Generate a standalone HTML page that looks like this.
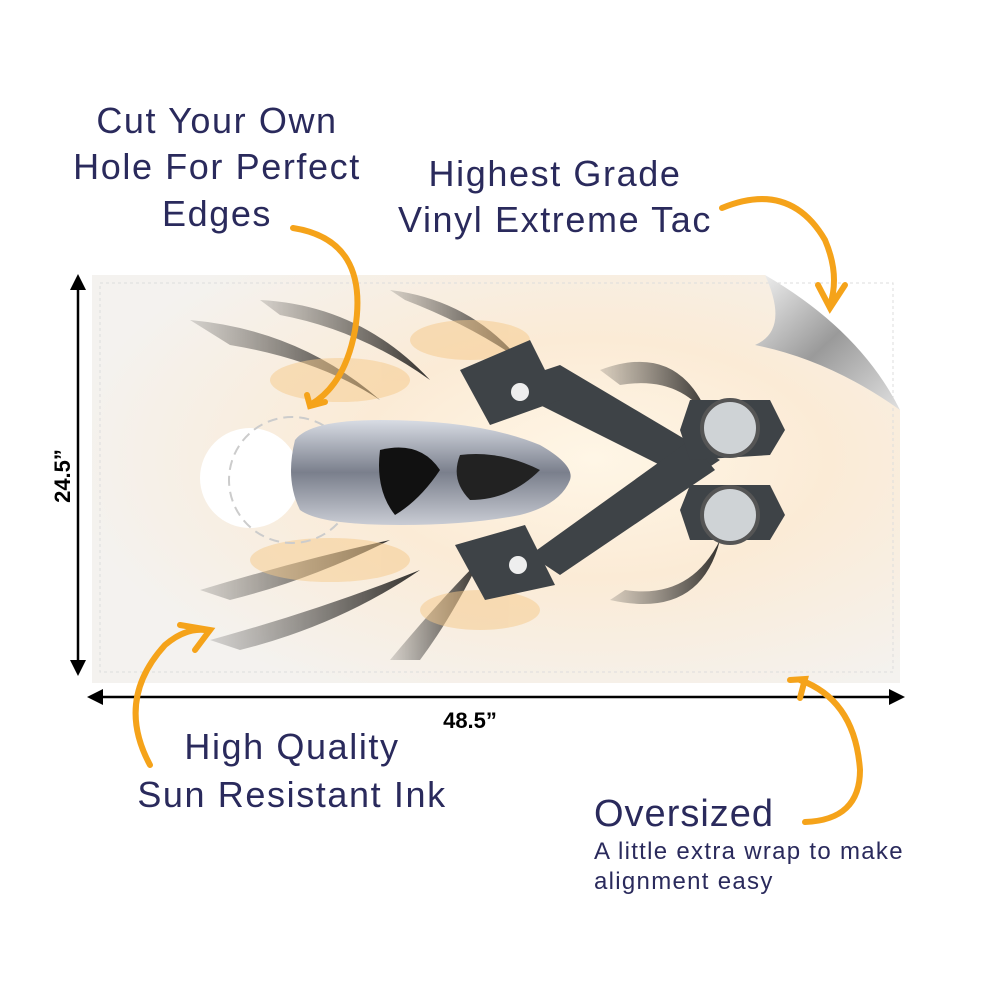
<!DOCTYPE html>
<html><head><meta charset="utf-8"><style>
html,body{margin:0;padding:0;background:#fff;}
body{width:1000px;height:1000px;position:relative;overflow:hidden;font-family:"Liberation Sans",sans-serif;}
.t{position:absolute;color:#2a2a5c;white-space:nowrap;}
.b{font-size:36px;letter-spacing:1.6px;}
</style></head><body>
<svg width="1000" height="1000" style="position:absolute;left:0;top:0">
<defs>
<radialGradient id="bg" cx="62%" cy="45%" r="65%">
<stop offset="0" stop-color="#fff6e6"/><stop offset="0.45" stop-color="#fbebd6"/><stop offset="1" stop-color="#f4f2ef"/>
</radialGradient>
<linearGradient id="skull" x1="0" y1="0" x2="0" y2="1">
<stop offset="0" stop-color="#d8dce4"/><stop offset="0.5" stop-color="#7a7f8c"/><stop offset="1" stop-color="#c9ccd4"/>
</linearGradient>
<linearGradient id="peel" x1="0" y1="0" x2="1" y2="1">
<stop offset="0" stop-color="#f2f2f2"/><stop offset="0.5" stop-color="#9a9a9a"/><stop offset="1" stop-color="#e0e0e0"/>
</linearGradient>
<linearGradient id="fl" x1="0" y1="0" x2="1" y2="0">
<stop offset="0" stop-color="#333" stop-opacity="0.2"/><stop offset="1" stop-color="#111"/>
</linearGradient>
</defs>
<polygon points="92,275 765,275 900,410 900,683 92,683" fill="url(#bg)"/>
<rect x="100" y="283" width="793" height="389" fill="none" stroke="#ddd" stroke-dasharray="3,3"/>
<path d="M765,275 Q790,330 755,345 Q830,360 900,410 Q860,330 765,275Z" fill="url(#peel)"/>
<g fill="url(#fl)" opacity="0.85">
<path d="M190,320 Q300,330 380,400 Q320,360 230,345Z"/>
<path d="M260,300 Q360,305 430,380 Q360,330 280,315Z"/>
<path d="M390,290 Q470,300 520,360 Q470,325 405,300Z"/>
<path d="M200,590 Q300,560 390,540 Q310,580 230,600Z"/>
<path d="M210,640 Q320,610 420,570 Q340,625 240,650Z"/>
<path d="M390,660 Q440,600 480,560 Q450,620 420,660Z"/>
<path d="M600,370 Q680,340 710,420 Q680,375 620,385Z"/>
<path d="M610,600 Q700,620 720,540 Q690,600 625,590Z"/>
</g>
<g fill="#f6c98a" opacity="0.5">
<ellipse cx="340" cy="380" rx="70" ry="22"/><ellipse cx="330" cy="560" rx="80" ry="22"/>
<ellipse cx="470" cy="340" rx="60" ry="20"/><ellipse cx="480" cy="610" rx="60" ry="20"/>
</g>
<circle cx="250" cy="478" r="50" fill="#fff"/>
<circle cx="292" cy="480" r="63" fill="none" stroke="#ccc" stroke-width="2" stroke-dasharray="10,6"/>
<path d="M295,440 Q310,420 380,420 Q480,420 540,445 Q575,465 570,480 Q560,505 520,515 Q470,525 400,525 Q320,525 300,510 Q285,480 295,440Z" fill="url(#skull)"/>
<path d="M380,450 Q420,440 440,470 Q420,500 395,515 Q375,490 380,450Z" fill="#111"/>
<path d="M460,455 Q500,450 540,470 Q510,500 470,500 Q450,480 460,455Z" fill="#222"/>
<g fill="#3e4347">
<polygon points="500,385 560,365 720,460 690,480"/>
<polygon points="530,555 690,440 715,470 560,575"/>
<polygon points="690,400 770,400 785,430 770,455 690,460 680,430"/>
<polygon points="690,485 770,485 785,515 770,540 690,540 680,510"/>
<polygon points="460,370 530,340 560,400 490,425"/>
<polygon points="455,545 525,525 555,585 485,600"/>
</g>
<circle cx="730" cy="428" r="28" fill="#cfd3d6" stroke="#555" stroke-width="4"/>
<circle cx="730" cy="515" r="28" fill="#cfd3d6" stroke="#555" stroke-width="4"/>
<circle cx="520" cy="392" r="9" fill="#eee"/><circle cx="518" cy="565" r="9" fill="#eee"/>
<g stroke="#000" stroke-width="2.5" fill="#000">
<line x1="78" y1="282" x2="78" y2="668"/>
<line x1="96" y1="697" x2="896" y2="697"/>
</g>
<polygon points="78,274 70,290 86,290" fill="#000"/>
<polygon points="78,676 70,660 86,660" fill="#000"/>
<polygon points="87,697 103,689 103,705" fill="#000"/>
<polygon points="905,697 889,689 889,705" fill="#000"/>
<text x="70" y="476" font-family="Liberation Sans" font-weight="bold" font-size="22" text-anchor="middle" transform="rotate(-90 70 476)">24.5”</text>
<text x="470" y="728" font-family="Liberation Sans" font-weight="bold" font-size="22" text-anchor="middle">48.5”</text>
<g fill="none" stroke="#f5a31a" stroke-width="6" stroke-linecap="round">
<path d="M293,228 Q370,240 355,330 Q345,385 310,405"/>
<path d="M307,395 L310,406 L325,402"/>
<path d="M722,208 Q790,180 825,240 Q840,275 830,305"/>
<path d="M818,285 L830,308 L845,285"/>
<path d="M150,765 Q115,700 165,645 Q185,628 205,630"/>
<path d="M180,625 L210,630 L195,650"/>
<path d="M805,822 Q860,820 860,770 Q855,700 800,680"/>
<path d="M790,680 L805,679 L800,698"/>
</g>
</svg>
<div class="t b" style="left:217px;top:100px;transform:translateX(-50%)">Cut Your Own</div>
<div class="t b" style="left:217px;top:146px;transform:translateX(-50%)">Hole For Perfect</div>
<div class="t b" style="left:217px;top:193px;transform:translateX(-50%)">Edges</div>
<div class="t b" style="left:555px;top:153px;transform:translateX(-50%)">Highest Grade</div>
<div class="t b" style="left:555px;top:199px;transform:translateX(-50%)">Vinyl Extreme Tac</div>
<div class="t b" style="left:292px;top:726px;transform:translateX(-50%)">High Quality</div>
<div class="t b" style="left:292px;top:774px;transform:translateX(-50%)">Sun Resistant Ink</div>
<div class="t" style="left:594px;top:793px;font-size:38px;letter-spacing:1px;">Oversized</div>
<div class="t" style="left:594px;top:838px;font-size:24px;letter-spacing:1.3px;">A little extra wrap to make</div>
<div class="t" style="left:594px;top:868px;font-size:24px;letter-spacing:1.3px;">alignment easy</div>
</body></html>
